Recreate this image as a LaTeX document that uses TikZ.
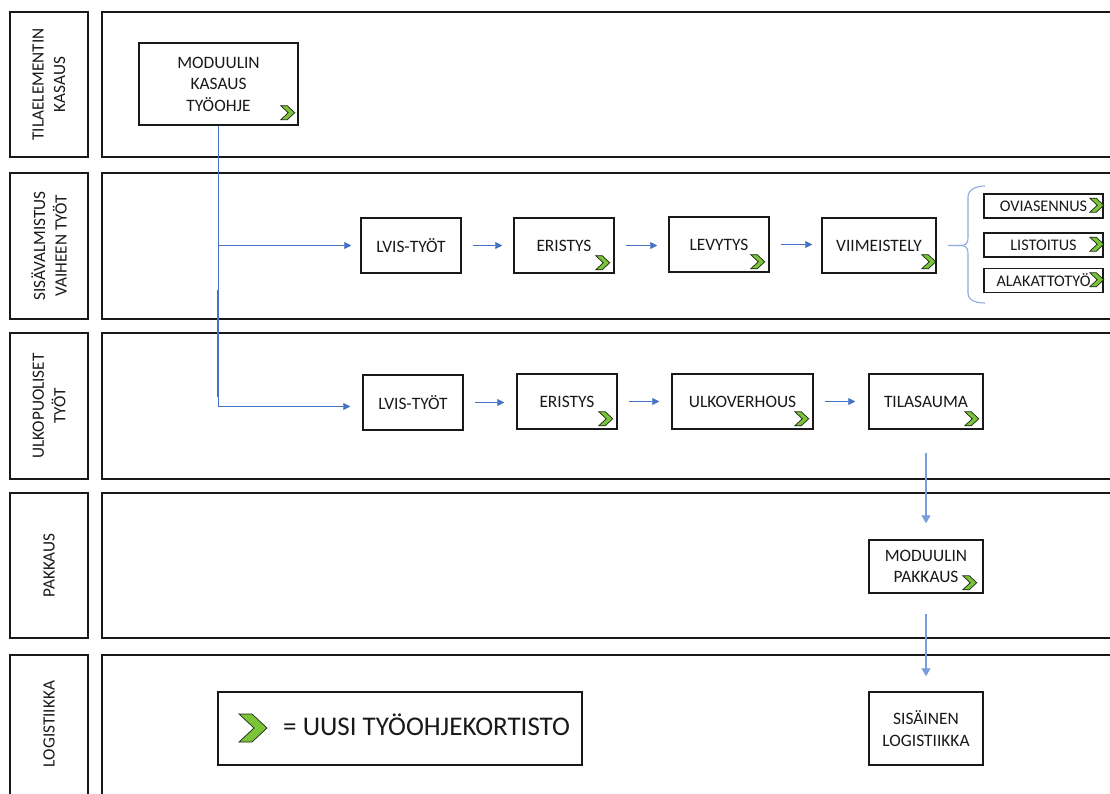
\documentclass[tikz,border=0pt]{standalone}
\usepackage{fontspec}
\setmainfont{Carlito}
\usetikzlibrary{arrows.meta,calc}

\definecolor{flowblue}{RGB}{68,114,196}
\definecolor{downblue}{RGB}{120,156,220}
\definecolor{bracecol}{RGB}{143,170,220}
\definecolor{chevgreen}{RGB}{122,196,58}
\definecolor{chevedge}{RGB}{28,36,20}
\definecolor{ink}{RGB}{25,25,25}

\tikzset{
  lane/.style={draw=ink, line width=1.6pt, fill=white},
  lbl/.style={rotate=90, align=center, text=ink, font=\fontsize{17.2}{21.5}\selectfont},
  box/.style={draw=ink, line width=1.5pt, fill=white, inner sep=0pt, align=center,
              text=ink, font=\fontsize{17.4}{21.5}\selectfont},
  subbox/.style={box, minimum width=119, minimum height=24, font=\fontsize{16.2}{18}\selectfont},
  flow/.style={draw=flowblue, line width=0.9pt, -{Triangle[length=7pt,width=7pt]}},
  downflow/.style={draw=downblue, line width=1.2pt, -{Triangle[length=8pt,width=9pt]}},
  chev/.pic={\filldraw[fill=chevgreen, draw=chevedge, line width=0.7pt, line join=miter]
             (0,0) -- (6.5,0) -- (14,7) -- (6.5,14) -- (0,14) -- (7.5,7) -- cycle;}
}

\begin{document}
\begin{tikzpicture}[x=1pt, y=-1pt]
\useasboundingbox (0,0) rectangle (1110,794);
\clip (0,0) rectangle (1110,794);
\fill[white] (0,0) rectangle (1110,794);

% swim lanes: label column and work area
\draw[lane] (10,12) rectangle (88,157);
\draw[lane] (102,12) rectangle (1125,157);
\draw[lane] (10,173) rectangle (88,319);
\draw[lane] (102,173) rectangle (1125,319);
\draw[lane] (10,333) rectangle (88,479);
\draw[lane] (102,333) rectangle (1125,479);
\draw[lane] (10,493) rectangle (88,638);
\draw[lane] (102,493) rectangle (1125,638);
\draw[lane] (10,655) rectangle (88,810);
\draw[lane] (102,655) rectangle (1125,810);

\node[lbl] (lab1) at (49,84.5) {TILAELEMENTIN\\KASAUS};
\node[lbl] (lab2) at (49,246) {SISÄVALMISTUS\\VAIHEEN TYÖT};
\node[lbl] (lab3) at (49,406) {ULKOPUOLISET\\TYÖT};
\node[lbl] (lab4) at (49,565.5) {PAKKAUS};
\node[lbl] (lab5) at (49,724) {LOGISTIIKKA};

% work steps
\node[box, minimum width=159, minimum height=82] (kasaus) at (218.5,84) {MODUULIN\\KASAUS\\TYÖOHJE};

\node[box, minimum width=100, minimum height=55] (lvis1) at (411,245.5) {LVIS-TYÖT};
\node[box, minimum width=100, minimum height=55] (eristys1) at (564,245.5) {ERISTYS};
\node[box, minimum width=100, minimum height=55] (levytys) at (719,244.5) {LEVYTYS};
\node[box, minimum width=114, minimum height=55] (viim) at (879,245.5) {VIIMEISTELY};

\node[subbox] (ovi) at (1043.5,206) {OVIASENNUS};
\node[subbox] (listo) at (1043.5,245) {LISTOITUS};
\node[subbox] (alak) at (1043.5,280.5) {ALAKATTOTYÖ};

\node[box, minimum width=100, minimum height=55] (lvis2) at (413,402.5) {LVIS-TYÖT};
\node[box, minimum width=100, minimum height=55] (eristys2) at (567,401.5) {ERISTYS};
\node[box, minimum width=141, minimum height=55] (ulko) at (742.5,401.5) {ULKOVERHOUS};
\node[box, minimum width=114, minimum height=55] (tila) at (926,401.5) {TILASAUMA};

\node[box, minimum width=114, minimum height=53] (pakkaus) at (926,566.5) {MODUULIN\\PAKKAUS};
\node[box, minimum width=114, minimum height=73] (sisainen) at (926,728.5) {SISÄINEN\\LOGISTIIKKA};

% new work-card markers
\pic at ($(kasaus.south east)+(-18,-20)$) {chev};
\pic at ($(eristys1.south east)+(-19,-18)$) {chev};
\pic at ($(levytys.south east)+(-19,-18)$) {chev};
\pic at ($(viim.south east)+(-15,-19)$) {chev};
\pic at ($(ovi.north east)+(-14,5)$) {chev};
\pic at ($(listo.north east)+(-14,5)$) {chev};
\pic at ($(alak.north east)+(-14,5)$) {chev};
\pic at ($(eristys2.south east)+(-19,-18)$) {chev};
\pic at ($(ulko.south east)+(-19,-18)$) {chev};
\pic at ($(tila.south east)+(-19,-18)$) {chev};
\pic at ($(pakkaus.south east)+(-21,-18)$) {chev};

% flow connectors
\draw[flow, shorten >=9pt] (kasaus.south) |- (lvis1.west);
\draw[flow, shorten >=12pt] (kasaus.south) |- ($(lvis2.west)+(0,4)$);
\coordinate (seamtop) at (218,290);
\coordinate (seambot) at (218,397);
\draw[draw=flowblue, line width=1.5pt] (seamtop) -- (seambot);

\draw[flow, shorten <=11pt, shorten >=11pt] (lvis1.east) -- (lvis1.east -| eristys1.west);
\draw[flow, shorten <=11pt, shorten >=11pt] (eristys1.east) -- (eristys1.east -| levytys.west);
\draw[flow, shorten <=11pt, shorten >=9pt] (levytys.east) -- (levytys.east -| viim.west);

\draw[flow, shorten <=11pt, shorten >=12pt] (lvis2.east) -- (lvis2.east -| eristys2.west);
\draw[flow, shorten <=11pt, shorten >=12pt] (eristys2.east) -- (eristys2.east -| ulko.west);
\draw[flow, shorten <=11pt, shorten >=13pt] (ulko.east) -- (ulko.east -| tila.west);

\draw[downflow, shorten <=23pt, shorten >=16pt] (tila.south) -- (pakkaus.north);
\draw[downflow, shorten <=20pt, shorten >=15pt] (pakkaus.south) -- (sisainen.north);

% brace gathering the finishing tasks
\coordinate (bracetip) at ($(viim.east)+(11,0)$);
\draw[bracecol, line width=1.1pt]
  (bracetip) -- ++(11,0)
  .. controls +(6,0) and +(0,8) .. (968,237) -- (968,197)
  .. controls +(0,-8) and +(-8,0) .. (985,186);
\draw[bracecol, line width=1.1pt]
  ($(bracetip)+(11,0)$)
  .. controls +(6,0) and +(0,-8) .. (968,254) -- (968,293)
  .. controls +(0,8) and +(-8,0) .. (985,303);

% legend
\node[box, minimum width=364, minimum height=73] (legend) at (400,728.5) {};
\pic[scale=2] at (239,714) {chev};
\node[anchor=west, inner sep=0pt, text=ink, font=\fontsize{27}{30}\selectfont] (legtext) at (283,725) {= UUSI TYÖOHJEKORTISTO};
\end{tikzpicture}
\end{document}
